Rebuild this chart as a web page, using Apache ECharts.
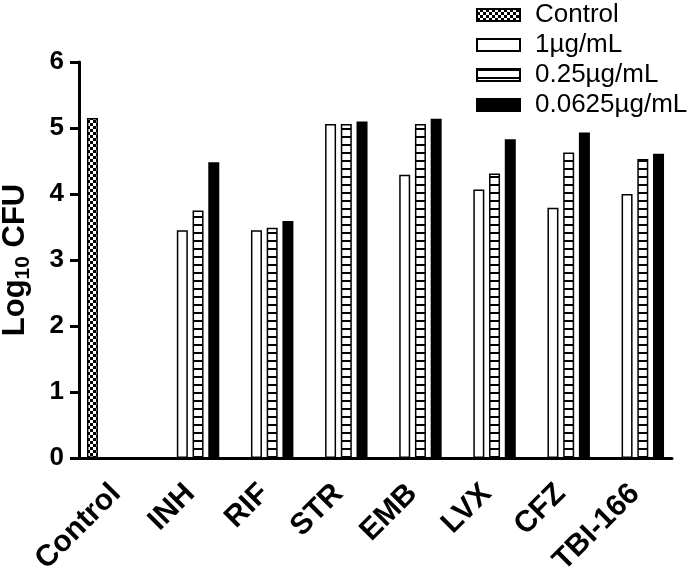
<!DOCTYPE html>
<html>
<head>
<meta charset="utf-8">
<script src="https://cdn.jsdelivr.net/npm/echarts@6/dist/echarts.min.js"></script>
<style>html,body{margin:0;padding:0;background:#fff}#c{width:700px;height:572px}</style>
</head>
<body>
<div id="c"></div>
<script>
var categories = ['Control', 'INH', 'RIF', 'STR', 'EMB', 'LVX', 'CFZ', 'TBI-166'];
var seriesNames = ['Control', '1\u00b5g/mL', '0.25\u00b5g/mL', '0.0625\u00b5g/mL'];
var controlValues = [5.15, null, null, null, null, null, null, null];
var conc1Values = [null, 3.45, 3.45, 5.06, 4.29, 4.07, 3.79, 4.00];
var conc025Values = [null, 3.75, 3.49, 5.06, 5.06, 4.31, 4.63, 4.53];
var conc0625Values = [null, 4.48, 3.59, 5.10, 5.14, 4.83, 4.93, 4.61];
var yTicks = [0, 1, 2, 3, 4, 5, 6];

function makeChecker() {
  var c = document.createElement('canvas');
  c.width = 6; c.height = 6;
  var g = c.getContext('2d');
  g.fillStyle = '#000'; g.fillRect(0, 0, 6, 6);
  g.fillStyle = '#fff'; g.fillRect(0, 0, 3, 3); g.fillRect(3, 3, 3, 3);
  return c;
}
function makeStripes() {
  var c = document.createElement('canvas');
  c.width = 8; c.height = 8;
  var g = c.getContext('2d');
  g.fillStyle = '#fff'; g.fillRect(0, 0, 8, 8);
  g.fillStyle = '#000'; g.fillRect(0, 0, 8, 2);
  return c;
}

var FONT = 'Arial, "Liberation Sans", sans-serif';
var chart = echarts.init(document.getElementById('c'), null, {renderer: 'canvas'});

function barSeries(name, data, fill) {
  return {
    name: name, type: 'bar', data: data,
    barWidth: 11, barGap: '43%',
    itemStyle: {color: fill, borderColor: '#000', borderWidth: 1.5},
    emphasis: {disabled: true},
    animation: false
  };
}

chart.setOption({
  animation: false,
  grid: {left: 79, right: 28, top: 62, bottom: 114, containLabel: false, outerBoundsMode: 'none'},
  legend: {
    orient: 'vertical', left: 471, top: -3, icon: 'rect',
    itemWidth: 43, itemHeight: 12, itemGap: 4,
    textStyle: {fontFamily: FONT, fontSize: 26, color: '#000', padding: [0, 0, 0, 10]},
    data: seriesNames
  },
  xAxis: {
    type: 'category', data: categories,
    axisLine: {lineStyle: {color: '#000', width: 3}},
    axisTick: {alignWithLabel: true, length: 10, lineStyle: {color: '#000', width: 3}},
    axisLabel: {rotate: 45, margin: 31, interval: 0, fontFamily: FONT, fontWeight: 'bold', fontSize: 30, color: '#000'}
  },
  yAxis: {
    type: 'value', min: yTicks[0], max: yTicks[yTicks.length - 1], interval: 1,
    splitLine: {show: false},
    axisLine: {show: true, lineStyle: {color: '#000', width: 3}},
    axisTick: {show: true, length: 9, lineStyle: {color: '#000', width: 3}},
    axisLabel: {margin: 15, fontFamily: FONT, fontWeight: 'bold', fontSize: 26, color: '#000'},
    name: '{a|Log}{b|10}{a| CFU}',
    nameLocation: 'middle', nameRotate: 90, nameGap: 45,
    nameTextStyle: {
      rich: {
        a: {fontFamily: FONT, fontWeight: 'bold', fontSize: 31, lineHeight: 38, color: '#000'},
        b: {fontFamily: FONT, fontWeight: 'bold', fontSize: 21, lineHeight: 21, verticalAlign: 'bottom', color: '#000'}
      }
    }
  },
  series: [
    barSeries(seriesNames[0], controlValues, {image: makeChecker(), repeat: 'repeat'}),
    barSeries(seriesNames[1], conc1Values, '#fff'),
    barSeries(seriesNames[2], conc025Values, {image: makeStripes(), repeat: 'repeat'}),
    barSeries(seriesNames[3], conc0625Values, '#000')
  ]
});
</script>
</body>
</html>
